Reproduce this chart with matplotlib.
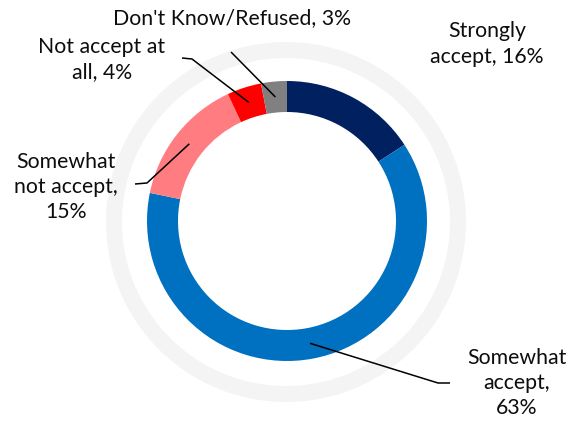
import numpy as np
import matplotlib
matplotlib.use("Agg")
import matplotlib.pyplot as plt
from matplotlib.patches import Wedge

plt.rcParams['font.family'] = ['Lato', 'DejaVu Sans']

# data
labels = ["Strongly\naccept", "Somewhat\naccept", "Somewhat\nnot accept",
          "Not accept at\nall", "Don't Know/Refused"]
values = [16, 63, 15, 4, 3]
colors = ["#002060", "#0070C0", "#FF7C80", "#FF0000", "#808080"]

# layout, in pixel units (y measured upward)
W, H = 574, 422
cx, cy = 287, 201
r_out, ring_w = 140, 31
label_pos = [(487, 378), (517, 39), (66, 235), (102, 362), (232, 404)]
# elbow points of the leader lines (None = no leader)
elbows = [None,
          [(450, 39), (438, 39)],
          [(135, 238), (147, 239)],
          [(182, 364), (192, 363)],
          [(231, 370)]]

fig = plt.figure(figsize=(W / 100, H / 100), dpi=100)
ax = fig.add_axes([0, 0, 1, 1])

# faint outer ring
ax.add_patch(Wedge((cx - 1, cy - 1), 180, 0, 360, width=16,
                   facecolor="#F4F4F4", edgecolor="none"))

wedges, _ = ax.pie(values, colors=colors, startangle=90, counterclock=False,
                   center=(cx, cy), radius=r_out, frame=True,
                   wedgeprops=dict(width=ring_w, linewidth=0))
ax.set_xlim(0, W)
ax.set_ylim(0, H)
ax.set_aspect('equal')
ax.axis('off')

texts = [f"{l}, {v}%" if i in (0, 3, 4) else f"{l},\n{v}%"
         for i, (l, v) in enumerate(zip(labels, values))]
for i, txt in enumerate(texts):
    x, y = label_pos[i]
    ax.text(x, y, txt, ha='center', va='center', multialignment='center',
            fontsize=15.3, linespacing=1.32, color='#0d0d0d')
    if elbows[i] is not None:
        w = wedges[i]
        mid = np.deg2rad((w.theta1 + w.theta2) / 2)
        rm = r_out - ring_w / 2
        tip = (cx + rm * np.cos(mid), cy + rm * np.sin(mid))
        pts = elbows[i] + [tip]
        ax.plot([p[0] for p in pts], [p[1] for p in pts],
                color='black', lw=1.1, solid_capstyle='butt')

fig.savefig("out.png", dpi=100)
